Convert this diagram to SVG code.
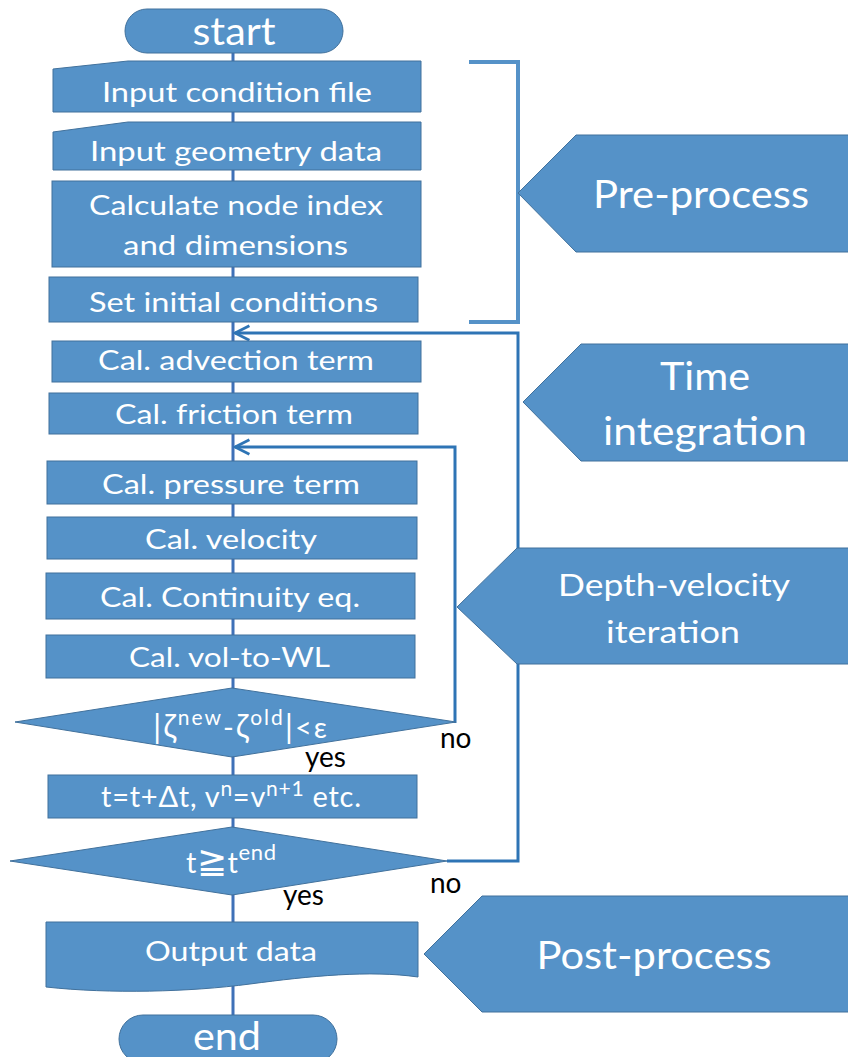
<svg xmlns="http://www.w3.org/2000/svg" width="848" height="1057" viewBox="0 0 848 1057">
<defs>
<style>
.n{fill:#5592C8;stroke:#41719C;stroke-width:1}
.t{fill:#fff;font-family:Lato,"Open Sans",sans-serif;font-size:26px;text-anchor:middle}
.m{fill:#fff;font-family:Lato,"Open Sans",sans-serif;font-size:29px;text-anchor:middle}
.big{fill:#fff;font-family:Lato,"Open Sans",sans-serif;font-size:39px;text-anchor:middle}
.mid{fill:#fff;font-family:Lato,"Open Sans",sans-serif;font-size:31px;text-anchor:middle}
.lbl{fill:#000;font-family:Lato,"Open Sans",sans-serif;font-size:28px}
.main{fill:none;stroke:#3F71B8;stroke-width:3}
.loop{fill:none;stroke:#2E74B5;stroke-width:3}
.br{fill:none;stroke:#5592C8;stroke-width:4}
</style>
<marker id="ah" viewBox="0 0 10 10" refX="9" refY="5" markerUnits="userSpaceOnUse" markerWidth="18" markerHeight="18" orient="auto">
<path d="M1,1 L9,5 L1,9" fill="none" stroke="#2E74B5" stroke-width="1.6"/>
</marker>
</defs>
<g id="connectors">
<line class="main" x1="233" y1="50" x2="233" y2="1020"/>
<path class="loop" d="M447,861 H518 V333 H235" marker-end="url(#ah)"/>
<path class="loop" d="M455,723 V447 H235" marker-end="url(#ah)"/>
<path class="br" d="M469,62 H518 V322 H469"/>
</g>
<g id="start"><rect class="n" x="125" y="9" width="218" height="44" rx="22"/><text class="big" x="234" y="45" textLength="83" lengthAdjust="spacingAndGlyphs">start</text></g>
<g id="input-condition"><path class="n" d="M53,69 L128,61 H421 V112 H53 Z"/><text class="t" x="237" y="102" textLength="270" lengthAdjust="spacingAndGlyphs">Input condition file</text></g>
<g id="input-geometry"><path class="n" d="M53,132 L128,122 H421 V170 H53 Z"/><text class="t" x="236" y="161" textLength="292" lengthAdjust="spacingAndGlyphs">Input geometry data</text></g>
<g id="calc-node"><rect class="n" x="52" y="181" width="369" height="86"/><text class="t" x="236" y="215" textLength="294" lengthAdjust="spacingAndGlyphs">Calculate node index</text><text class="t" x="235.5" y="255" textLength="225" lengthAdjust="spacingAndGlyphs">and dimensions</text></g>
<g id="set-initial"><rect class="n" x="49" y="277" width="369" height="45"/><text class="t" x="233.5" y="312" textLength="289" lengthAdjust="spacingAndGlyphs">Set initial conditions</text></g>
<g id="advection"><rect class="n" x="52" y="341" width="369" height="41"/><text class="t" x="236" y="370" textLength="276" lengthAdjust="spacingAndGlyphs">Cal. advection term</text></g>
<g id="friction"><rect class="n" x="49" y="393" width="369" height="41"/><text class="t" x="234" y="424" textLength="238" lengthAdjust="spacingAndGlyphs">Cal. friction term</text></g>
<g id="pressure"><rect class="n" x="47" y="461" width="370" height="43"/><text class="t" x="231" y="494" textLength="258" lengthAdjust="spacingAndGlyphs">Cal. pressure term</text></g>
<g id="velocity"><rect class="n" x="47" y="517" width="370" height="42"/><text class="t" x="231" y="549" textLength="172" lengthAdjust="spacingAndGlyphs">Cal. velocity</text></g>
<g id="continuity"><rect class="n" x="46" y="573" width="369" height="46"/><text class="t" x="230" y="607" textLength="260" lengthAdjust="spacingAndGlyphs">Cal. Continuity eq.</text></g>
<g id="vol-to-wl"><rect class="n" x="46" y="635" width="369" height="43"/><text class="t" x="229.5" y="667" textLength="201" lengthAdjust="spacingAndGlyphs">Cal. vol-to-WL</text></g>
<g id="check-zeta"><path class="n" d="M15,722 L232,688 L456,722 L232,757 Z"/><text class="m" x="240" y="738" textLength="174"><tspan font-size="33">|</tspan><tspan font-size="32">ζ</tspan><tspan dy="-13" font-size="21">new</tspan><tspan dy="13">-</tspan><tspan font-size="32">ζ</tspan><tspan dy="-13" font-size="21">old</tspan><tspan dy="13" font-size="33">|</tspan>&lt;ε</text></g>
<g id="advance"><rect class="n" x="48" y="775" width="369" height="43"/><text class="m" x="231" y="807" textLength="260">t=t+Δt, v<tspan dy="-11" font-size="21">n</tspan><tspan dy="11">=v</tspan><tspan dy="-11" font-size="21">n+1</tspan><tspan dy="11"> etc.</tspan></text></g>
<g id="check-end"><path class="n" d="M10,861 L232,827 L447,861 L232,895 Z"/><text class="m" x="231" y="873" font-size="31" textLength="90">t<tspan font-size="36">≧</tspan>t<tspan dy="-13" font-size="22">end</tspan></text></g>
<g id="output"><path class="n" d="M46,922 H418 V977 C370,970 310,976 250,984 S110,994 46,987 Z"/><text class="t" x="231" y="961" textLength="172" lengthAdjust="spacingAndGlyphs">Output data</text></g>
<g id="end"><rect class="n" x="119" y="1015" width="218" height="48" rx="24"/><text class="big" x="227" y="1050" textLength="68" lengthAdjust="spacingAndGlyphs">end</text></g>
<g id="labels">
<text class="lbl" x="440" y="748">no</text>
<text class="lbl" x="305" y="767">yes</text>
<text class="lbl" x="430" y="893">no</text>
<text class="lbl" x="283" y="905">yes</text>
</g>
<g id="pre-process"><path class="n" d="M518,193 L576,135 H850 V252 H576 Z"/><text class="big" x="701" y="208" textLength="216" lengthAdjust="spacingAndGlyphs">Pre-process</text></g>
<g id="time-integration"><path class="n" d="M523,402 L581,344 H850 V461 H581 Z"/><text class="big" x="705" y="390" textLength="90" lengthAdjust="spacingAndGlyphs">Time</text><text class="big" x="705" y="445" textLength="204" lengthAdjust="spacingAndGlyphs">integration</text></g>
<g id="depth-velocity"><path class="n" d="M457,607 L517,548 H850 V664 H517 Z"/><text class="mid" x="674" y="596" textLength="232" lengthAdjust="spacingAndGlyphs">Depth-velocity</text><text class="mid" x="673" y="643" textLength="134" lengthAdjust="spacingAndGlyphs">iteration</text></g>
<g id="post-process"><path class="n" d="M424,954 L482,896 H850 V1012 H482 Z"/><text class="big" x="654" y="969" textLength="235" lengthAdjust="spacingAndGlyphs">Post-process</text></g>
</svg>
